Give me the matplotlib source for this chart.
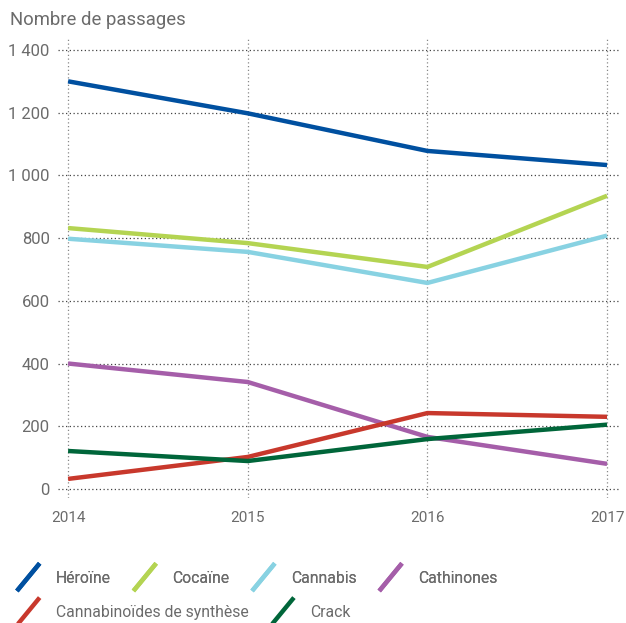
import matplotlib.pyplot as plt
from matplotlib.lines import Line2D
from matplotlib.legend_handler import HandlerBase
from matplotlib.ticker import FixedLocator, FixedFormatter

# --------------------------
# Données
# --------------------------
annees = [2014, 2015, 2016, 2017]
heroine = [1300, 1198, 1078, 1033]
cocaine = [832, 784, 708, 935]
cannabis = [798, 756, 657, 808]
cathinones = [400, 341, 166, 80]
cannabinoides = [32, 102, 242, 230]
crack = [121, 89, 159, 205]

noms = ["Héroïne", "Cocaïne", "Cannabis", "Cathinones",
        "Cannabinoïdes de synthèse", "Crack"]
couleurs = ["#0050a0", "#b4d452", "#88d2e2", "#a55ea9", "#c8382c", "#00663a"]
series = [heroine, cocaine, cannabis, cathinones, cannabinoides, crack]

y_ticks = [0, 200, 400, 600, 800, 1000, 1200, 1400]
y_labels = ["0", "200", "400", "600", "800", "1 000", "1 200", "1 400"]

gris = "#6b6b6b"
plt.rcParams['font.family'] = ['Roboto', 'DejaVu Sans']


class Diagonale(HandlerBase):
    # trait oblique comme dans la légende d'origine
    def create_artists(self, legend, orig_handle, xdescent, ydescent,
                       width, height, fontsize, trans):
        l = Line2D([-xdescent, width - xdescent], [-ydescent - 6, height - ydescent + 6],
                   color=orig_handle.get_color(), lw=orig_handle.get_linewidth(),
                   solid_capstyle='butt', transform=trans)
        return [l]


fig = plt.figure(figsize=(6.26, 6.23), dpi=100)
ax = fig.add_axes([0.0927, 0.2006, 0.8994, 0.7368])

lignes = []
for nom, c, s in zip(noms, couleurs, series):
    ln, = ax.plot(annees, s, color=c, lw=3.2, label=nom, solid_capstyle='butt')
    lignes.append(ln)

ax.set_xlim(2013.944, 2017.078)
ax.set_ylim(-29, 1435)
ax.set_xticks(annees)
ax.set_xticklabels([str(a) for a in annees])
ax.yaxis.set_major_locator(FixedLocator(y_ticks))
ax.yaxis.set_major_formatter(FixedFormatter(y_labels))
ax.yaxis.grid(True, linestyle=(0, (1, 2)), color="#444444", lw=0.9)
ax.xaxis.grid(True, linestyle=(0, (1, 2)), color="#888888", lw=0.9)
ax.set_axisbelow(True)
for sp in ax.spines.values():
    sp.set_visible(False)
ax.tick_params(length=0, colors=gris, labelsize=11)
ax.tick_params(axis='y', pad=6, labelsize=12)
ax.tick_params(axis='x', pad=9)

fig.text(0.016, 0.968, "Nombre de passages", color=gris, fontsize=13.3, va='center')

hmap = {Line2D: Diagonale()}
opts = dict(loc='center left', frameon=False, fontsize=11.3, labelcolor=gris,
            handlelength=1.45, handletextpad=1.02, columnspacing=1.45,
            handler_map=hmap, borderpad=0, borderaxespad=0)
leg1 = fig.legend(lignes[:4], noms[:4], bbox_to_anchor=(0.027, 0.072), ncol=4, **opts)
leg2 = fig.legend(lignes[4:], noms[4:], bbox_to_anchor=(0.027, 0.017), ncol=2, **opts)
fig.add_artist(leg1)

fig.savefig("out.png", dpi=100)
